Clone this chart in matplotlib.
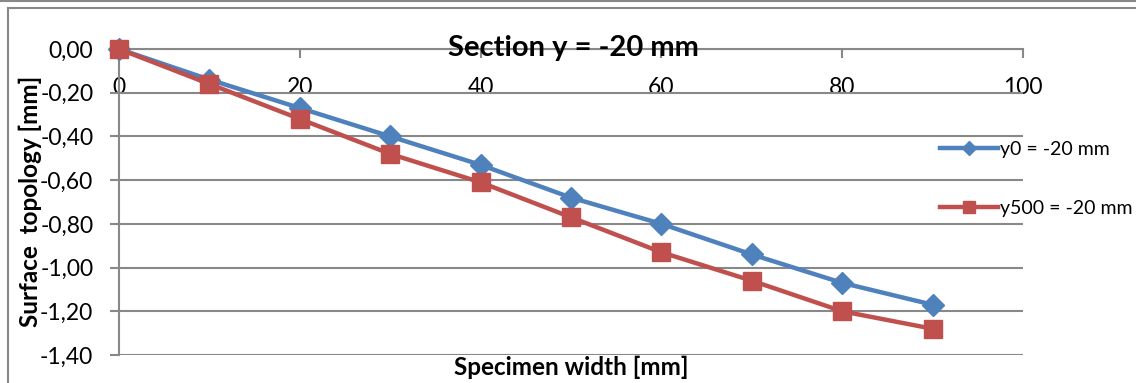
import matplotlib
matplotlib.use("Agg")
import matplotlib.pyplot as plt
from matplotlib.lines import Line2D

plt.rcParams['font.family'] = ['Lato', 'DejaVu Sans']

# Surface profile along the specimen width, section y = -20 mm
width_mm = [0, 10, 20, 30, 40, 50, 60, 70, 80, 90]
y0_topology = [0.00, -0.14, -0.27, -0.40, -0.53, -0.68, -0.80, -0.94, -1.07, -1.17]
y500_topology = [0.00, -0.16, -0.32, -0.48, -0.61, -0.77, -0.93, -1.06, -1.20, -1.28]
series_labels = ['y0 = -20 mm', 'y500 = -20 mm']
x_ticks = [0, 20, 40, 60, 80, 100]
y_ticks = [0.0, -0.2, -0.4, -0.6, -0.8, -1.0, -1.2, -1.4]

W, H = 1136, 383
fig = plt.figure(figsize=(W / 100, H / 100), dpi=100)

def fx(px):
    return px / W

def fy(py):
    return 1 - py / H

grey = '#888888'
blue = '#4F81BD'
red = '#C0504D'

# chart frame
fig.add_artist(Line2D([0, 1], [fy(1), fy(1)], transform=fig.transFigure, color=grey, lw=1.5))
fig.add_artist(Line2D([fx(8), 1], [fy(7.5), fy(7.5)], transform=fig.transFigure, color=grey, lw=1.5))
fig.add_artist(Line2D([fx(8), fx(8)], [fy(7.5), 0], transform=fig.transFigure, color=grey, lw=1.5))

ax = fig.add_axes([fx(119), fy(355), fx(1023) - fx(119), fy(49) - fy(355)])
ax.set_xlim(0, 100)
ax.set_ylim(-1.4, 0)

ax.plot(width_mm, y0_topology, color=blue, lw=3.2, marker='D', ms=11,
        markeredgecolor=blue, label=series_labels[0], zorder=3, clip_on=False)
ax.plot(width_mm, y500_topology, color=red, lw=3.2, marker='s', ms=13.5,
        markeredgecolor=red, label=series_labels[1], zorder=4, clip_on=False)

for s in ['top', 'right']:
    ax.spines[s].set_visible(False)
ax.spines['bottom'].set_position(('data', 0))
ax.spines['bottom'].set_color(grey)
ax.spines['left'].set_color(grey)
ax.spines['bottom'].set_linewidth(1.5)
ax.spines['left'].set_linewidth(1.5)

ax.set_xticks(x_ticks)
ax.set_xticklabels([str(v) for v in x_ticks])
ax.set_yticks(y_ticks)
ax.set_yticklabels([f"{v:.2f}".replace('.', ',') for v in y_ticks])
ax.tick_params(axis='x', direction='out', length=6.5, width=1.5, color=grey,
               labelsize=16.5, pad=14)
ax.tick_params(axis='y', direction='out', length=6.5, width=1.5, color=grey,
               labelsize=16.5, pad=12)
ax.yaxis.grid(True, color=grey, lw=1.5)
ax.set_axisbelow(True)

fig.text(fx(573), fy(48), 'Section y = -20 mm', fontsize=21, fontweight='bold',
         ha='center', va='center')
fig.text(fx(571), fy(367), 'Specimen width [mm]', fontsize=17.5, fontweight='bold',
         ha='center', va='center')
fig.text(fx(30), fy(201), 'Surface  topology [mm]', fontsize=17.5, fontweight='bold',
         ha='center', va='center', rotation=90)

leg = ax.legend(loc='upper left', bbox_to_anchor=(fx(932), fy(133)),
                bbox_transform=fig.transFigure, frameon=False, fontsize=14,
                handlelength=3.0, handletextpad=0.1, labelspacing=2.15,
                borderaxespad=0, markerscale=0.65)

fig.savefig('out.png', dpi=100)
